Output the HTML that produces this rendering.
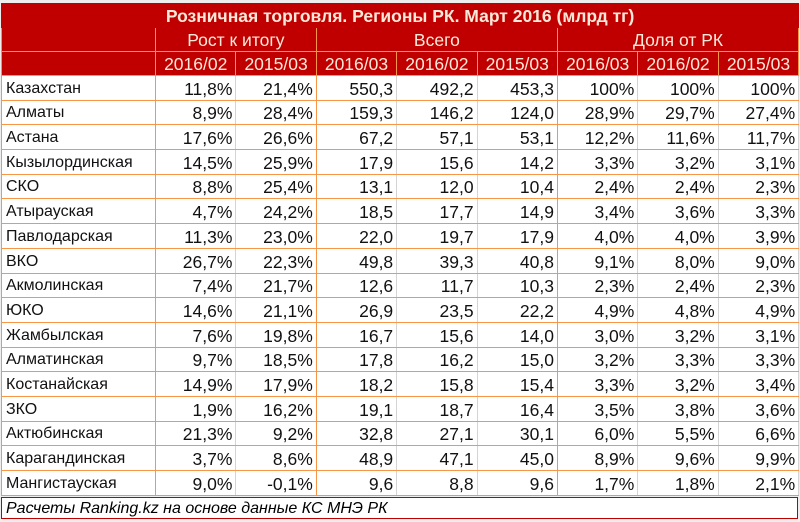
<!DOCTYPE html>
<html><head><meta charset="utf-8">
<style>
body{margin:0;background:#fff;width:800px;height:522px;overflow:hidden;font-family:"Liberation Sans",sans-serif;}
.wrap{position:absolute;left:0;top:0;width:800px;height:522px;background:#eee;}
table{position:absolute;left:1px;top:3px;border-collapse:collapse;table-layout:fixed;width:797px;}
td{padding:0 3px;font-size:17.5px;line-height:20px;white-space:nowrap;overflow:hidden;border:1px solid #f79646;color:#111;}
tr.d td{height:22.7px;text-align:right;background:#fff;border-left:1px solid #d4d4d4;border-right:1px solid #d4d4d4;vertical-align:bottom;padding-bottom:1px}
tr.d td:first-child{text-align:left;border-left:1px solid #f79646;border-right:1px solid #f79646;font-size:16px;padding-left:4px}
tr.d td.g{border-right:1px solid #f79646}
tr.h td{background:#c00000;color:#fde9d9;text-align:center;height:23px}
tr.t td{background:#c00000;color:#fde9d9;font-weight:bold;text-align:center;height:23px;font-size:17.5px;border-color:#c00000}
.foot{position:absolute;left:1px;top:497px;height:22px;background:#fff;border:1px solid #c00000;font-style:italic;font-size:16px;line-height:22px;padding-left:4px;box-sizing:border-box;width:797px;white-space:nowrap}
</style></head><body><div class="wrap">
<table>
<colgroup><col style="width:154px"><col span="8" style="width:80.4px"></colgroup>
<tr class="t"><td colspan="9">Розничная торговля. Регионы РК. Март 2016 (млрд тг)</td></tr>
<tr class="h"><td></td><td colspan="2">Рост к итогу</td><td colspan="3">Всего</td><td colspan="3">Доля от РК</td></tr>
<tr class="h"><td></td><td>2016/02</td><td>2015/03</td><td>2016/03</td><td>2016/02</td><td>2015/03</td><td>2016/03</td><td>2016/02</td><td>2015/03</td></tr>
<tr class="d"><td>Казахстан</td><td>11,8%</td><td class="g">21,4%</td><td>550,3</td><td>492,2</td><td class="g">453,3</td><td>100%</td><td>100%</td><td>100%</td></tr>
<tr class="d"><td>Алматы</td><td>8,9%</td><td class="g">28,4%</td><td>159,3</td><td>146,2</td><td class="g">124,0</td><td>28,9%</td><td>29,7%</td><td>27,4%</td></tr>
<tr class="d"><td>Астана</td><td>17,6%</td><td class="g">26,6%</td><td>67,2</td><td>57,1</td><td class="g">53,1</td><td>12,2%</td><td>11,6%</td><td>11,7%</td></tr>
<tr class="d"><td>Кызылординская</td><td>14,5%</td><td class="g">25,9%</td><td>17,9</td><td>15,6</td><td class="g">14,2</td><td>3,3%</td><td>3,2%</td><td>3,1%</td></tr>
<tr class="d"><td>СКО</td><td>8,8%</td><td class="g">25,4%</td><td>13,1</td><td>12,0</td><td class="g">10,4</td><td>2,4%</td><td>2,4%</td><td>2,3%</td></tr>
<tr class="d"><td>Атырауская</td><td>4,7%</td><td class="g">24,2%</td><td>18,5</td><td>17,7</td><td class="g">14,9</td><td>3,4%</td><td>3,6%</td><td>3,3%</td></tr>
<tr class="d"><td>Павлодарская</td><td>11,3%</td><td class="g">23,0%</td><td>22,0</td><td>19,7</td><td class="g">17,9</td><td>4,0%</td><td>4,0%</td><td>3,9%</td></tr>
<tr class="d"><td>ВКО</td><td>26,7%</td><td class="g">22,3%</td><td>49,8</td><td>39,3</td><td class="g">40,8</td><td>9,1%</td><td>8,0%</td><td>9,0%</td></tr>
<tr class="d"><td>Акмолинская</td><td>7,4%</td><td class="g">21,7%</td><td>12,6</td><td>11,7</td><td class="g">10,3</td><td>2,3%</td><td>2,4%</td><td>2,3%</td></tr>
<tr class="d"><td>ЮКО</td><td>14,6%</td><td class="g">21,1%</td><td>26,9</td><td>23,5</td><td class="g">22,2</td><td>4,9%</td><td>4,8%</td><td>4,9%</td></tr>
<tr class="d"><td>Жамбылская</td><td>7,6%</td><td class="g">19,8%</td><td>16,7</td><td>15,6</td><td class="g">14,0</td><td>3,0%</td><td>3,2%</td><td>3,1%</td></tr>
<tr class="d"><td>Алматинская</td><td>9,7%</td><td class="g">18,5%</td><td>17,8</td><td>16,2</td><td class="g">15,0</td><td>3,2%</td><td>3,3%</td><td>3,3%</td></tr>
<tr class="d"><td>Костанайская</td><td>14,9%</td><td class="g">17,9%</td><td>18,2</td><td>15,8</td><td class="g">15,4</td><td>3,3%</td><td>3,2%</td><td>3,4%</td></tr>
<tr class="d"><td>ЗКО</td><td>1,9%</td><td class="g">16,2%</td><td>19,1</td><td>18,7</td><td class="g">16,4</td><td>3,5%</td><td>3,8%</td><td>3,6%</td></tr>
<tr class="d"><td>Актюбинская</td><td>21,3%</td><td class="g">9,2%</td><td>32,8</td><td>27,1</td><td class="g">30,1</td><td>6,0%</td><td>5,5%</td><td>6,6%</td></tr>
<tr class="d"><td>Карагандинская</td><td>3,7%</td><td class="g">8,6%</td><td>48,9</td><td>47,1</td><td class="g">45,0</td><td>8,9%</td><td>9,6%</td><td>9,9%</td></tr>
<tr class="d"><td>Мангистауская</td><td>9,0%</td><td class="g">-0,1%</td><td>9,6</td><td>8,8</td><td class="g">9,6</td><td>1,7%</td><td>1,8%</td><td>2,1%</td></tr>
</table>
<div class="foot">Расчеты Ranking.kz на основе данные КС МНЭ РК</div>
</div></body></html>
